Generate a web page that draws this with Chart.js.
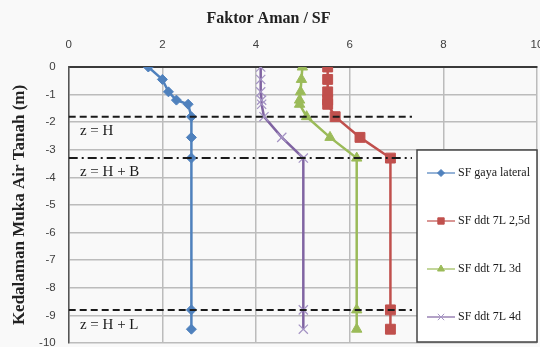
<!DOCTYPE html>
<html>
<head>
<meta charset="utf-8">
<script src="https://cdn.jsdelivr.net/npm/chart.js@4/dist/chart.umd.min.js"></script>
<style>
  html, body { margin: 0; padding: 0; background: #f9f9f9; }
  #wrap { width: 540px; height: 347px; }
</style>
</head>
<body>
<div id="wrap"><canvas id="chart" width="540" height="347"></canvas></div>
<script>
// depth of water table (m) for every measured point
const depths = [0, -0.45, -0.9, -1.2, -1.35, -1.8, -2.55, -3.3, -8.8, -9.5];
// safety factor per series
const sfLateral = [1.7, 2.0, 2.13, 2.3, 2.55, 2.62, 2.62, 2.62, 2.62, 2.62];
const sf25d = [5.53, 5.53, 5.53, 5.53, 5.53, 5.69, 6.22, 6.87, 6.87, 6.87];
const sf3d = [4.99, 4.97, 4.95, 4.93, 4.93, 5.08, 5.58, 6.15, 6.15, 6.15];
const sf4d = [4.1, 4.1, 4.1, 4.12, 4.12, 4.17, 4.55, 5.01, 5.01, 5.01];

const seriesNames = ['SF gaya lateral', 'SF ddt 7L 2,5d', 'SF ddt 7L 3d', 'SF ddt 7L 4d'];

// reference levels z = H, z = H + B, z = H + L
const zoneDepths = [-1.8, -3.3, -8.8];
const zoneLabels = ['z = H', 'z = H + B', 'z = H + L'];
const zoneLabelDepths = [-2.32, -3.79, -9.36];
const zoneLineEnd = 7.33;

const xTicks = [0, 2, 4, 6, 8, 10];
const yTicks = [0, -1, -2, -3, -4, -5, -6, -7, -8, -9, -10];

function pts(xs) {
	return xs.map((v, i) => ({ x: v, y: depths[i] }));
}

function series(label, xs, color, style, radius, extra) {
	return Object.assign({
		label: label,
		data: pts(xs),
		showLine: true,
		borderColor: color,
		backgroundColor: color,
		borderWidth: 2.5,
		pointStyle: style,
		pointRadius: radius,
		pointHoverRadius: radius,
		pointBackgroundColor: color,
		pointBorderColor: color,
		pointBorderWidth: 1,
		tension: 0
	}, extra || {});
}

const dashes = [[7, 4], [9, 4, 2, 4], [7, 4]];
const zoneSets = zoneDepths.map((d, i) => ({
	label: 'zone' + i,
	data: [{ x: 0, y: d }, { x: zoneLineEnd, y: d }],
	showLine: true,
	borderColor: '#1a1a1a',
	borderWidth: 2,
	borderDash: dashes[i],
	pointRadius: 0
}));

const mainSets = [
	series(seriesNames[0], sfLateral, '#4F81BD', 'rectRot', 5),
	series(seriesNames[1], sf25d, '#C0504D', 'rect', 7),
	series(seriesNames[2], sf3d, '#9BBB59', 'triangle', 6),
	series(seriesNames[3], sf4d, '#8064A2', 'crossRot', 6.5, { pointBorderColor: '#A493C4', pointBorderWidth: 1.2 })
];

const zoneText = {
	id: 'zoneText',
	afterDatasetsDraw(chart) {
		const ctx = chart.ctx;
		const xs = chart.scales.x, ys = chart.scales.y;
		ctx.save();
		ctx.font = '15px "Liberation Serif"';
		ctx.fillStyle = '#1a1a1a';
		ctx.textBaseline = 'middle';
		zoneLabels.forEach((t, i) => {
			ctx.fillText(t, xs.getPixelForValue(0.24), ys.getPixelForValue(zoneLabelDepths[i]));
		});
		ctx.restore();
	}
};

const boxLegend = {
	id: 'boxLegend',
	afterDraw(chart) {
		const ctx = chart.ctx;
		const left = 417, top = 150, w = 120, h = 192;
		ctx.save();
		ctx.fillStyle = '#ffffff';
		ctx.fillRect(left, top, w, h);
		ctx.strokeStyle = '#444';
		ctx.lineWidth = 1.5;
		ctx.strokeRect(left, top, w, h);
		const sizes = [3.5, 4.5, 4, 4.5];
		mainSets.forEach((ds, i) => {
			const y = top + 23 + i * 48;
			ctx.strokeStyle = ds.borderColor;
			ctx.lineWidth = 1.2;
			ctx.beginPath();
			ctx.moveTo(left + 10, y);
			ctx.lineTo(left + 38, y);
			ctx.stroke();
			ctx.fillStyle = ds.pointBackgroundColor;
			ctx.strokeStyle = ds.pointBorderColor;
			ctx.lineWidth = 1;
			Chart.helpers.drawPoint(ctx, { pointStyle: ds.pointStyle, radius: sizes[i], borderWidth: 1, rotation: 0 }, left + 24, y);
			ctx.fillStyle = '#1a1a1a';
			ctx.font = '12px "Liberation Serif"';
			ctx.textBaseline = 'middle';
			ctx.fillText(ds.label, left + 41, y);
		});
		ctx.restore();
	}
};

new Chart(document.getElementById('chart'), {
	type: 'scatter',
	data: { datasets: zoneSets.concat(mainSets) },
	options: {
		responsive: false,
		animation: false,
		devicePixelRatio: 1,
		layout: { autoPadding: false, padding: { left: 0, right: 3, top: 0, bottom: 4 } },
		plugins: {
			legend: { display: false },
			tooltip: { enabled: false },
			title: {
				display: true,
				text: 'Faktor Aman / SF',
				color: '#222',
				font: { family: 'Liberation Serif', size: 16, weight: 'bold' },
				padding: { top: 9.4, bottom: 0 }
			}
		},
		scales: {
			x: {
				type: 'linear',
				position: 'top',
				min: 0,
				max: 10,
				afterBuildTicks: (s) => { s.ticks = xTicks.map(v => ({ value: v })); },
				afterFit: (s) => { s.height = 38.4; s.paddingLeft = 0; s.paddingRight = 0; },
				ticks: { color: '#404040', font: { family: 'Liberation Sans', size: 11.5 }, padding: 15 },
				grid: { color: '#bcbcbc', lineWidth: 1.5, drawTicks: false },
				border: { color: '#3a3a3a', width: 2 }
			},
			y: {
				type: 'linear',
				position: 'left',
				min: -10,
				max: 0,
				afterBuildTicks: (s) => { s.ticks = yTicks.map(v => ({ value: v })); },
				afterFit: (s) => { s.width = 68.7; s.paddingTop = 0; s.paddingBottom = 0; },
				ticks: { color: '#404040', font: { family: 'Liberation Sans', size: 11.5 }, padding: 13 },
				grid: { color: '#bcbcbc', lineWidth: 1.5, drawTicks: false },
				border: { color: '#555', width: 1.5 },
				title: {
					display: true,
					text: 'Kedalaman Muka Air Tanah (m)',
					color: '#222',
					font: { family: 'Liberation Serif', size: 17, weight: 'bold' },
					padding: { top: 9.8, bottom: 0 }
				}
			}
		}
	},
	plugins: [zoneText, boxLegend]
});
</script>
</body>
</html>
